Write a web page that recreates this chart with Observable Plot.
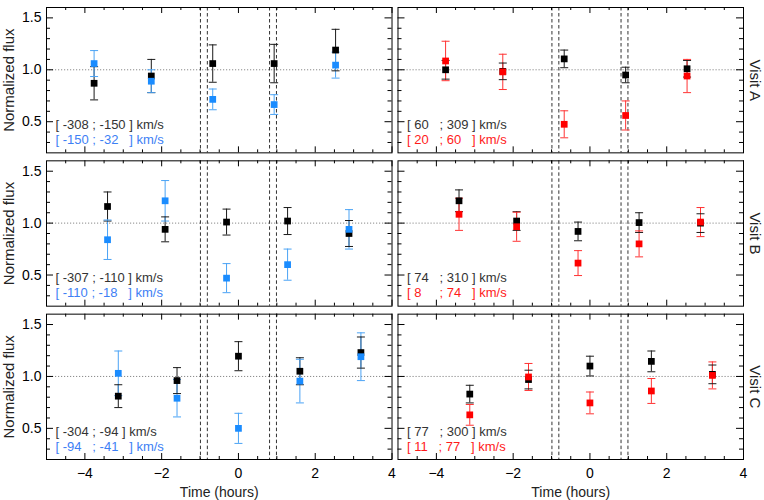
<!DOCTYPE html>
<html><head><meta charset="utf-8">
<script src="https://cdn.jsdelivr.net/npm/d3@7"></script>
<script src="https://cdn.jsdelivr.net/npm/@observablehq/plot@0.6"></script>
<style>
body{margin:0;background:#fff;}
svg text{white-space:pre;}
</style></head><body><div id="chart"></div><script>
// ---- data ----
const visits = ["A", "B", "C"];
const sides = ["left", "right"];

const timesA = [-3.76, -2.27, -0.67, 0.93, 2.53];
const timesB = [-3.41, -1.91, -0.31, 1.28, 2.88];
const timesC = [-3.13, -1.60, 0.00, 1.60, 3.19];

// left column: black = high-velocity band, blue = low-velocity band
const aLeftBlack = [0.87, 0.94, 1.06, 1.06, 1.19];
const aLeftBlackErr = [0.16, 0.16, 0.18, 0.185, 0.20];
const aLeftBlue = [1.06, 0.89, 0.715, 0.665, 1.045];
const aLeftBlueErr = [0.125, 0.11, 0.10, 0.095, 0.125];
const bLeftBlack = [1.16, 0.94, 1.01, 1.02, 0.90];
const bLeftBlackErr = [0.14, 0.12, 0.125, 0.13, 0.125];
const bLeftBlue = [0.84, 1.215, 0.47, 0.60, 0.94];
const bLeftBlueErr = [0.19, 0.195, 0.14, 0.15, 0.19];
const cLeftBlack = [0.81, 0.96, 1.195, 1.05, 1.23];
const cLeftBlackErr = [0.11, 0.125, 0.14, 0.13, 0.15];
const cLeftBlue = [1.03, 0.79, 0.50, 0.955, 1.19];
const cLeftBlueErr = [0.215, 0.18, 0.145, 0.21, 0.23];

// right column: black = high-velocity band, red = low-velocity band
const aRightBlack = [1.00, 0.985, 1.105, 0.95, 1.01];
const aRightBlackErr = [0.09, 0.08, 0.085, 0.075, 0.08];
const aRightRed = [1.085, 0.98, 0.475, 0.56, 0.94];
const aRightRedErr = [0.19, 0.17, 0.13, 0.14, 0.16];
const bRightBlack = [1.215, 1.02, 0.92, 1.005, 1.00];
const bRightBlackErr = [0.105, 0.09, 0.09, 0.095, 0.09];
const bRightRed = [1.085, 0.965, 0.615, 0.80, 1.01];
const bRightRedErr = [0.155, 0.14, 0.12, 0.125, 0.14];
const cRightBlack = [0.83, 0.97, 1.10, 1.145, 1.02];
const cRightBlackErr = [0.085, 0.09, 0.095, 0.10, 0.09];
const cRightRed = [0.63, 0.995, 0.745, 0.86, 1.01];
const cRightRedErr = [0.10, 0.13, 0.105, 0.12, 0.13];

// legend labels
const legendLeftBlack = ["[ -308 ; -150 ] km/s", "[ -307 ; -110 ] km/s", "[ -304 ; -94 ] km/s"];
const legendLeftBlue = ["[ -150 ; -32   ] km/s", "[ -110 ; -18   ] km/s", "[ -94   ; -41   ] km/s"];
const legendRightBlack = ["[ 60   ; 309 ] km/s", "[ 74   ; 310 ] km/s", "[ 77   ; 300 ] km/s"];
const legendRightRed = ["[ 20   ; 60   ] km/s", "[ 8     ; 74   ] km/s", "[ 11   ; 77   ] km/s"];

// transit contact times (dashed lines)
const contactTimes = [-0.99, -0.81, 0.81, 0.99];

// ticks
const xMajorTicks = [-4, -2, 0, 2, 4];
const xMinorTicks = [-4.5, -3.5, -3, -2.5, -1.5, -1, -0.5, 0.5, 1, 1.5, 2.5, 3, 3.5];
const yMajorTicks = [0.5, 1.0, 1.5];
const yMinorTicks = [0.3, 0.4, 0.6, 0.7, 0.8, 0.9, 1.1, 1.2, 1.3, 1.4];

// ---- styles ----
const colors = {
  black: {mark: "#000000", bar: "#1a1a1a", text: "#333333"},
  blue: {mark: "#1a8cff", bar: "#4aa3f5", text: "#3d80f5"},
  red: {mark: "#ff0000", bar: "#ff3333", text: "#ff1a1a"}
};

// ---- build table ----
const times = {A: timesA, B: timesB, C: timesC};
const seriesList = [
  ["A", "left", "black", aLeftBlack, aLeftBlackErr],
  ["B", "left", "black", bLeftBlack, bLeftBlackErr],
  ["C", "left", "black", cLeftBlack, cLeftBlackErr],
  ["A", "right", "black", aRightBlack, aRightBlackErr],
  ["B", "right", "black", bRightBlack, bRightBlackErr],
  ["C", "right", "black", cRightBlack, cRightBlackErr],
  ["A", "left", "blue", aLeftBlue, aLeftBlueErr],
  ["B", "left", "blue", bLeftBlue, bLeftBlueErr],
  ["C", "left", "blue", cLeftBlue, cLeftBlueErr],
  ["A", "right", "red", aRightRed, aRightRedErr],
  ["B", "right", "red", bRightRed, bRightRedErr],
  ["C", "right", "red", cRightRed, cRightRedErr]
];
const rows = [];
for (const [visit, side, kind, flux, err] of seriesList) {
  flux.forEach((f, i) => rows.push({visit, side, kind, t: times[visit][i], flux: f, err: err[i],
    mark: colors[kind].mark, bar: colors[kind].bar}));
}
const legendRows = [];
visits.forEach((v, i) => {
  legendRows.push({visit: v, side: "left", line: 0, label: legendLeftBlack[i], color: colors.black.text});
  legendRows.push({visit: v, side: "left", line: 1, label: legendLeftBlue[i], color: colors.blue.text});
  legendRows.push({visit: v, side: "right", line: 0, label: legendRightBlack[i], color: colors.black.text});
  legendRows.push({visit: v, side: "right", line: 1, label: legendRightRed[i], color: colors.red.text});
});

// ---- layout ----
const W = 764, H = 500;
const mL = 46, mR = 21, mT = 7, mB = 41;
const padX = 0.017, padY = 0.052;
const facetW = (W - mL - mR) / (2 - padX) * (1 - padX);
const facetH = (H - mT - mB) / (3 - padY) * (1 - padY);

const capSymbol = {
  draw(context, size) {
    const h = Math.sqrt(size / Math.PI);
    context.moveTo(-h, 0);
    context.lineTo(h, 0);
  }
};

const chart = Plot.plot({
  width: W, height: H,
  marginLeft: mL, marginRight: mR, marginTop: mT, marginBottom: mB,
  style: {fontFamily: "'Liberation Sans', Arial, Helvetica, sans-serif", fontSize: "14px", background: "white", color: "black"},
  fx: {domain: sides, paddingInner: padX, paddingOuter: 0, round: false, axis: null},
  fy: {domain: visits, paddingInner: padY, paddingOuter: 0, round: false, axis: null},
  x: {domain: [-5, 4]},
  y: {domain: [0.2, 1.6]},
  color: {type: "identity"},
  marks: [
    // reference lines
    Plot.ruleY([1], {stroke: "#8a8a8a", strokeDasharray: "1.2,1.8", strokeWidth: 1}),
    Plot.ruleX(contactTimes, {stroke: "#333", strokeDasharray: "3.5,2.5", strokeWidth: 1}),
    // inward ticks
    Plot.tickX(xMajorTicks, {x: d => d, stroke: "black", insetTop: facetH - 6}),
    Plot.tickX(xMajorTicks, {x: d => d, stroke: "black", insetBottom: facetH - 6}),
    Plot.tickX(xMinorTicks, {x: d => d, stroke: "black", insetTop: facetH - 3}),
    Plot.tickX(xMinorTicks, {x: d => d, stroke: "black", insetBottom: facetH - 3}),
    Plot.tickY(yMajorTicks, {y: d => d, stroke: "black", insetRight: facetW - 7}),
    Plot.tickY(yMajorTicks, {y: d => d, stroke: "black", insetLeft: facetW - 7}),
    Plot.tickY(yMinorTicks, {y: d => d, stroke: "black", insetRight: facetW - 4}),
    Plot.tickY(yMinorTicks, {y: d => d, stroke: "black", insetLeft: facetW - 4}),
    Plot.frame({stroke: "black", strokeWidth: 1}),
    // axes labels
    Plot.axisX(xMajorTicks, {tickSize: 0, tickPadding: 9, label: null, fontSize: 14}),
    Plot.axisY(yMajorTicks, {tickSize: 0, tickPadding: 5, label: null, tickFormat: d3.format(".1f"), fontSize: 14}),
    // error bars
    Plot.ruleX(rows, {fx: "side", fy: "visit", x: "t", y1: d => d.flux - d.err, y2: d => d.flux + d.err, stroke: "bar", strokeWidth: 1}),
    Plot.dot(rows, {fx: "side", fy: "visit", x: "t", y: d => d.flux - d.err, symbol: capSymbol, r: 4, stroke: "bar", fill: "none", strokeWidth: 1}),
    Plot.dot(rows, {fx: "side", fy: "visit", x: "t", y: d => d.flux + d.err, symbol: capSymbol, r: 4, stroke: "bar", fill: "none", strokeWidth: 1}),
    // points
    Plot.dot(rows, {fx: "side", fy: "visit", x: "t", y: "flux", symbol: "square", r: 3.8, fill: "mark", stroke: "none"}),
    // legends
    Plot.text(legendRows.filter(d => d.line === 0), {fx: "side", fy: "visit", text: "label", fill: "color",
      frameAnchor: "bottom-left", textAnchor: "start", lineAnchor: "bottom", dx: 9, dy: -24, fontSize: 13}),
    Plot.text(legendRows.filter(d => d.line === 1), {fx: "side", fy: "visit", text: "label", fill: "color",
      frameAnchor: "bottom-left", textAnchor: "start", lineAnchor: "bottom", dx: 9, dy: -9, fontSize: 13}),
    // visit labels
    Plot.text(visits, {fx: () => "right", fy: d => d, text: d => "Visit " + d, frameAnchor: "right",
      textAnchor: "middle", lineAnchor: "middle", dx: 11, rotate: 90, fontSize: 15, fill: "#222"}),
    Plot.text(visits, {fx: () => "left", fy: d => d, text: () => "Normalized flux", frameAnchor: "left",
      textAnchor: "middle", lineAnchor: "middle", dx: -37, rotate: -90, fontSize: 15, fill: "#222"}),
    Plot.text(sides, {fx: d => d, fy: () => "C", text: () => "Time (hours)", frameAnchor: "bottom",
      textAnchor: "middle", dy: 33, lineAnchor: "middle", fontSize: 14, fill: "#222"})
  ]
});
document.getElementById("chart").appendChild(chart);
</script></body></html>
